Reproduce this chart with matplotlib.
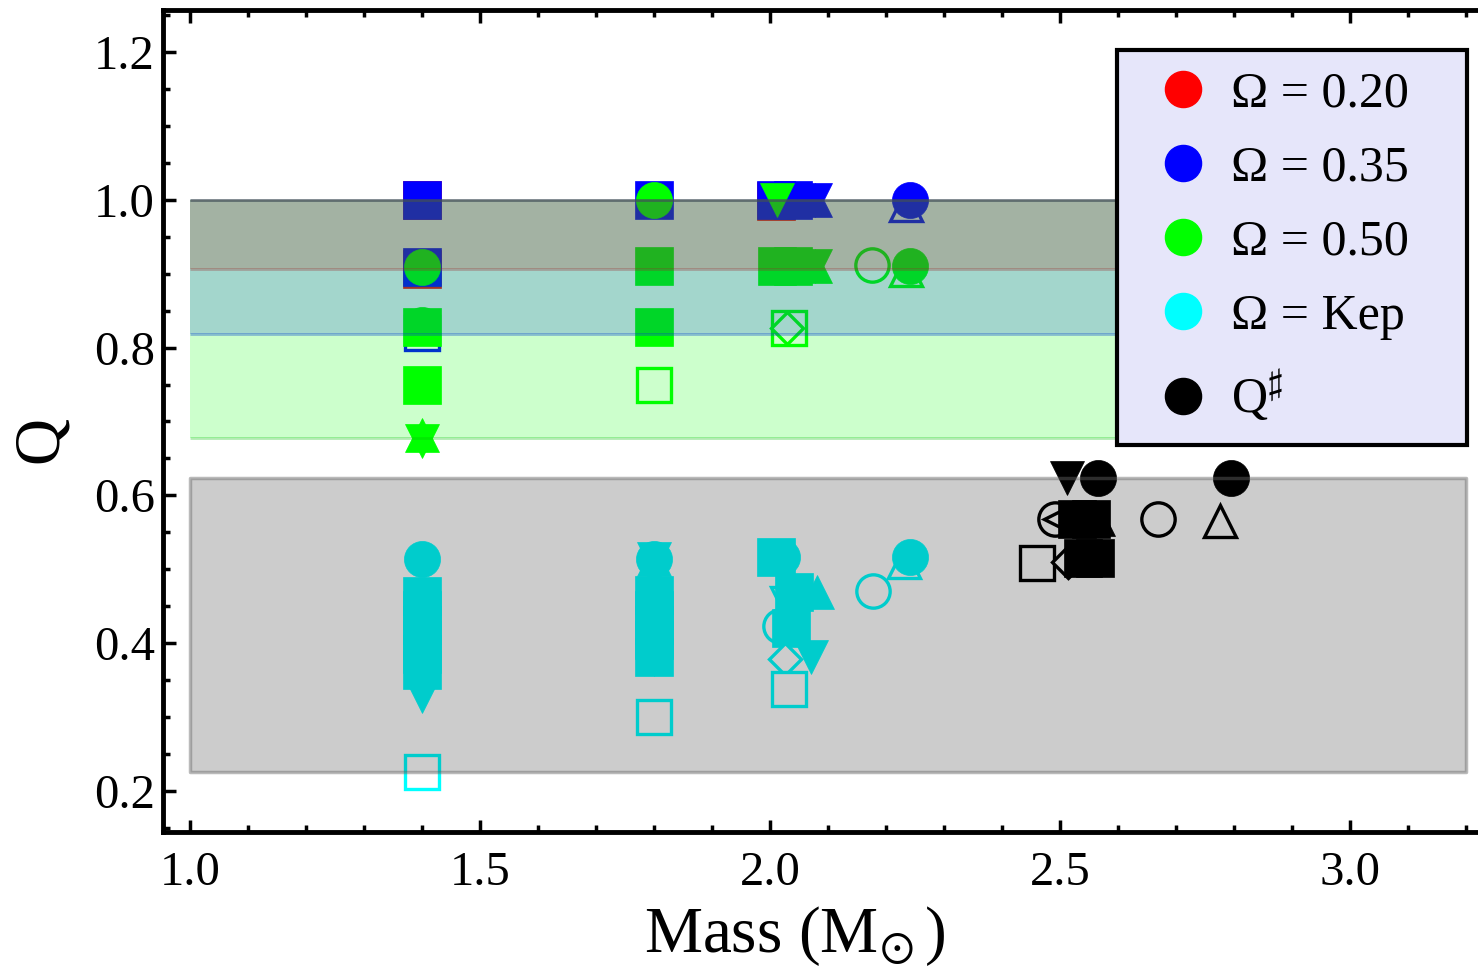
import matplotlib
matplotlib.use("Agg")
import matplotlib.pyplot as plt
from matplotlib.lines import Line2D
from matplotlib.ticker import MultipleLocator, FormatStrFormatter

# model id -> (marker, filled)
SHAPES = {0: ('o', True), 1: ('s', True), 2: ('^', True), 3: ('v', True),
          4: ('o', False), 5: ('s', False), 6: ('^', False), 7: ('v', False),
          8: ('D', False), 9: ('<', False)}

# Omega = 0.20
mass_020 = [1.4, 1.4, 2.01]
q_020 = [1.0, 0.907, 0.998]
model_020 = [1, 1, 1]

# Omega = 0.35
mass_035 = [1.4, 1.4, 1.4, 1.8, 2.01, 2.04, 2.078, 2.078, 2.235, 2.241]
q_035 = [1.0, 0.909, 0.82, 1.0, 1.0, 1.0, 1.0, 1.0, 0.993, 1.0]
model_035 = [1, 1, 5, 1, 1, 1, 2, 3, 6, 0]

# Omega = 0.50
mass_050 = [1.4, 1.4, 1.4, 1.4, 1.4, 1.4,
            1.8, 1.8, 1.8, 1.8, 1.8,
            2.012, 2.012, 2.04, 2.078, 2.078, 2.033, 2.03,
            2.176, 2.235, 2.241]
q_050 = [0.909, 0.83, 0.828, 0.75, 0.682, 0.674,
         1.0, 0.911, 0.826, 0.828, 0.75,
         1.0, 0.911, 0.911, 0.911, 0.911, 0.826, 0.827,
         0.912, 0.905, 0.911]
model_050 = [0, 0, 1, 1, 2, 3,
             0, 1, 3, 1, 5,
             3, 1, 1, 2, 3, 5, 8,
             4, 6, 0]

# Omega = Kep
mass_kep = [1.4, 1.4, 1.4, 1.4, 1.4, 1.4, 1.4, 1.4, 1.4,
            1.8, 1.8, 1.8, 1.8, 1.8, 1.8, 1.8, 1.8, 1.8, 1.8,
            2.03, 2.017, 2.01, 2.02, 2.041, 2.081, 2.036, 2.07, 2.026, 2.033,
            2.178, 2.232, 2.241]
q_kep = [0.514, 0.464, 0.445, 0.425, 0.405, 0.385, 0.364, 0.328, 0.226,
         0.514, 0.514, 0.514, 0.465, 0.445, 0.425, 0.405, 0.378, 0.381, 0.30,
         0.455, 0.423, 0.516, 0.516, 0.469, 0.469, 0.42, 0.381, 0.378, 0.338,
         0.470, 0.51, 0.516]
model_kep = [0, 1, 1, 1, 1, 1, 1, 3, 5,
             2, 3, 0, 1, 1, 1, 1, 3, 1, 5,
             7, 4, 1, 0, 1, 2, 1, 3, 8, 5,
             4, 6, 0]

# Q#
mass_qs = [2.512, 2.566, 2.795, 2.491, 2.50, 2.529, 2.553, 2.566, 2.669, 2.776,
           2.46, 2.514, 2.54, 2.56]
q_qs = [0.624, 0.624, 0.624, 0.568, 0.568, 0.568, 0.568, 0.568, 0.568, 0.566,
        0.508, 0.51, 0.515, 0.515]
model_qs = [3, 0, 0, 4, 9, 1, 1, 2, 4, 6, 5, 8, 1, 1]

# shaded Q ranges
band_mass = [1.0, 3.2]
band_lo = [0.677, 0.819, 0.907, 0.226]
band_hi = [1.0, 1.0, 1.0, 0.624]
band_face = [(0, 1, 0, 0.2), (0, 0.2, 0.8, 0.2), (0.64, 0.15, 0, 0.2), (0, 0, 0, 0.2)]
band_edge = [(0, 0.75, 0, 0.3), (0, 0.25, 0.8, 0.35), (0.6, 0.15, 0.15, 0.3), (0.4, 0.4, 0.4, 0.45)]

legend_labels = ['Ω = 0.20', 'Ω = 0.35', 'Ω = 0.50', 'Ω = Kep', 'Q$^{\\sharp}$']
legend_colors = ['#ff0000', '#0000ff', '#00ff00', '#00ffff', '#000000']

plt.rcParams['font.family'] = ['Liberation Serif', 'DejaVu Serif']
plt.rcParams['mathtext.fontset'] = 'stix'

SIZES = {'o': 26, 's': 27, '^': 25, 'v': 25, 'D': 18, '<': 25}


def draw(ax, mass, q, model, color, z):
    for m, v, k in zip(mass, q, model):
        mk, filled = SHAPES[k]
        ms = SIZES[mk]
        if filled:
            ax.plot(m, v, marker=mk, ms=ms, color=color, mec=color, mew=0.5,
                    ls='none', zorder=z)
        else:
            ax.plot(m, v, marker=mk, ms=ms - 2, mfc='white', mec=color, mew=2.4,
                    ls='none', zorder=z)
        z += 0.001


fig = plt.figure(figsize=(14.78, 9.69), dpi=100)
ax = fig.add_axes([0.1103, 0.1414, 0.8897, 0.8483])

draw(ax, mass_020, q_020, model_020, legend_colors[0], 2.0)
draw(ax, mass_035, q_035, model_035, legend_colors[1], 2.1)
draw(ax, mass_050, q_050, model_050, legend_colors[2], 2.2)
draw(ax, mass_kep, q_kep, model_kep, legend_colors[3], 2.3)
draw(ax, mass_qs, q_qs, model_qs, legend_colors[4], 2.4)

# upper bands: only their horizontal edges are outlined, the lower one is boxed
for i, (lo, hi, fc, ec) in enumerate(zip(band_lo, band_hi, band_face, band_edge)):
    if i < 3:
        ax.fill_between(band_mass, lo, hi, facecolor=fc, lw=0, zorder=3)
        ax.hlines([lo, hi], band_mass[0], band_mass[1], colors=[ec], lw=2, zorder=3.1)
    else:
        ax.fill_between(band_mass, lo, hi, facecolor=fc, edgecolor=ec, lw=2.5, zorder=3)

ax.set_xlim(0.9534, 3.221)
ax.set_ylim(0.1446, 1.2568)
ax.xaxis.set_major_locator(MultipleLocator(0.5))
ax.xaxis.set_minor_locator(MultipleLocator(0.1))
ax.yaxis.set_major_locator(MultipleLocator(0.2))
ax.yaxis.set_minor_locator(MultipleLocator(0.05))
ax.xaxis.set_major_formatter(FormatStrFormatter('%.1f'))
ax.yaxis.set_major_formatter(FormatStrFormatter('%.1f'))
ax.tick_params(which='both', direction='in', top=True, right=False, width=2.5,
               labelsize=35)
ax.tick_params(which='major', length=9)
ax.tick_params(which='minor', length=5)
ax.tick_params(axis='x', pad=14)
ax.tick_params(axis='y', pad=6)
for side in ['left', 'bottom', 'top']:
    ax.spines[side].set_linewidth(3.5)
ax.spines['right'].set_visible(False)

ax.set_xlabel('Mass (M$_{\\!\\odot}$)', fontsize=47)
ax.set_ylabel('Q', fontsize=47)
ax.xaxis.set_label_coords(0.4806, -0.088)
ax.yaxis.set_label_coords(-0.07, 0.477)

handles = [Line2D([0], [0], marker='o', ls='none', color=c, ms=26) for c in legend_colors]
leg = ax.legend(handles, legend_labels, loc='upper left',
                bbox_to_anchor=(0.7255, 0.473, 0.266, 0.478), mode='expand',
                fontsize=36, frameon=True, fancybox=False, framealpha=1,
                facecolor='#e6e6fa', edgecolor='black', borderpad=0.42,
                labelspacing=0.55, handlelength=1.8, handletextpad=0.05,
                numpoints=1, borderaxespad=0)
leg.get_frame().set_linewidth(3)
leg.set_zorder(5)

fig.savefig('out.png', dpi=100)
